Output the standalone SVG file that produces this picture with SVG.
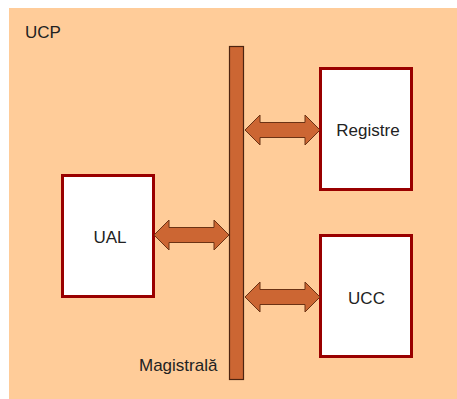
<svg xmlns="http://www.w3.org/2000/svg" width="457" height="399" viewBox="0 0 457 399">
  <style>
    .lbl { font-family: "Liberation Sans", Arial, sans-serif; font-size: 17px; fill: #222222; }
    .box { fill: #ffffff; stroke: #990000; stroke-width: 3; }
    .bus { fill: #cc6633; stroke: #4d2410; stroke-width: 1.2; }
    .arr { fill: #cc6633; stroke: #6b3214; stroke-width: 1; stroke-linejoin: miter; }
  </style>
  <rect width="457" height="399" fill="#ffffff"/>
  <!-- processor area -->
  <rect x="9" y="8" width="448" height="391" fill="#ffcc99"/>
  <text class="lbl" x="25" y="38">UCP</text>

  <g id="bus">
    <rect class="bus" x="229.5" y="46.5" width="14" height="333"/>
    <text class="lbl" x="139" y="371">Magistrală</text>
  </g>

  <g id="ual">
    <rect class="box" x="62.5" y="175.5" width="91" height="121"/>
    <text class="lbl" x="110" y="243" text-anchor="middle">UAL</text>
  </g>

  <g id="registre">
    <rect class="box" x="320.5" y="68.5" width="91" height="121"/>
    <text class="lbl" x="368" y="136" text-anchor="middle">Registre</text>
  </g>

  <g id="ucc">
    <rect class="box" x="320.5" y="235.5" width="91" height="121"/>
    <text class="lbl" x="366.5" y="304" text-anchor="middle">UCC</text>
  </g>

  <g id="connectors">
    <!-- UAL <-> bus -->
    <path class="arr" d="M154,235 L169,220 L169,227.5 L214,227.5 L214,220 L229,235 L214,250 L214,242.5 L169,242.5 L169,250 Z"/>
    <!-- bus <-> Registre -->
    <path class="arr" d="M245,130 L260,115 L260,122.5 L305,122.5 L305,115 L320,130 L305,145 L305,137.5 L260,137.5 L260,145 Z"/>
    <!-- bus <-> UCC -->
    <path class="arr" d="M245,297 L260,282 L260,289.5 L305,289.5 L305,282 L320,297 L305,312 L305,304.5 L260,304.5 L260,312 Z"/>
  </g>
</svg>
